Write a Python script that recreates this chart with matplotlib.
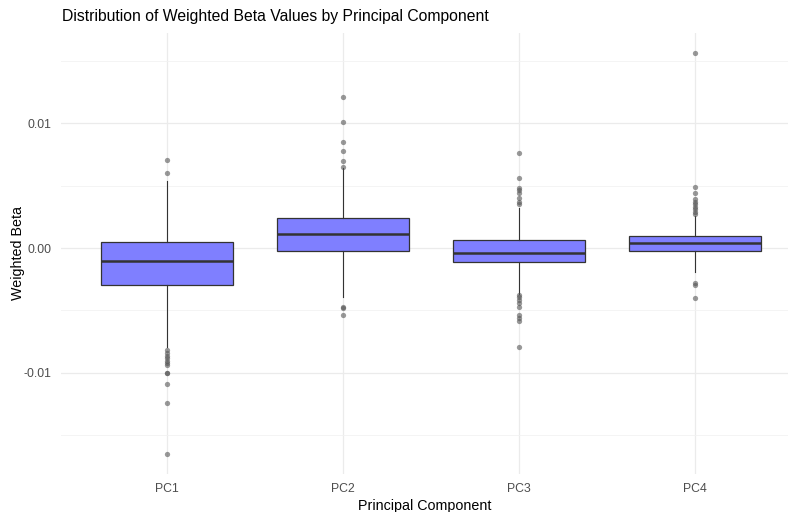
import matplotlib
matplotlib.use("Agg")
import matplotlib.pyplot as plt
from matplotlib.ticker import MultipleLocator, FixedLocator

plt.rcParams["font.family"] = ["Liberation Sans", "DejaVu Sans"]

# summary stats
components = ["PC1", "PC2", "PC3", "PC4"]
q1 = [-0.00295, -0.00027, -0.00115, -0.00022]
median = [-0.00102, 0.00110, -0.00040, 0.00043]
q3 = [0.00050, 0.00241, 0.00062, 0.00096]
whisker_low = [-0.00798, -0.00391, -0.00370, -0.00190]
whisker_high = [0.00540, 0.00640, 0.00319, 0.00260]
outliers = [
    [0.00704, 0.00602, -0.00820, -0.00846, -0.00867, -0.00886, -0.00905,
     -0.00926, -0.00940, -0.01000, -0.01004, -0.01095, -0.01248, -0.01657],
    [0.01210, 0.01012, 0.00849, 0.00777, 0.00699, 0.00651,
     -0.00471, -0.00485, -0.00540],
    [0.00760, 0.00560, 0.00484, 0.00466, 0.00439, 0.00399, 0.00372, 0.00353,
     -0.00378, -0.00396, -0.00418, -0.00444, -0.00476, -0.00538, -0.00565,
     -0.00586, -0.00798],
    [0.01564, 0.00493, 0.00439, 0.00391, 0.00372, 0.00353, 0.00332, 0.00311,
     0.00292, 0.00273, -0.00279, -0.00297, -0.00404],
]

stats = []
for i, name in enumerate(components):
    stats.append({
        "label": name,
        "q1": q1[i],
        "med": median[i],
        "q3": q3[i],
        "whislo": whisker_low[i],
        "whishi": whisker_high[i],
        "fliers": outliers[i],
    })

fig = plt.figure(figsize=(7.88, 5.12), dpi=100)
ax = fig.add_axes([61 / 788, 1 - 473.5 / 512, (788 - 61) / 788, (473.5 - 32.5) / 512])

ax.bxp(
    stats,
    positions=range(1, 5),
    widths=0.75,
    patch_artist=True,
    showcaps=False,
    boxprops=dict(facecolor="#7f7fff", edgecolor="#333333", linewidth=0.9),
    whiskerprops=dict(color="#333333", linewidth=0.8),
    medianprops=dict(color="#333333", linewidth=1.8),
    flierprops=dict(marker="o", markerfacecolor="#555555", markeredgecolor="none",
                    markersize=3.8, alpha=0.6),
)

ax.set_xlim(0.4, 4 + (788 - 695) / 176)
ax.set_ylim(-0.0181, 0.0173)

ax.yaxis.set_major_locator(FixedLocator([-0.01, 0.0, 0.01]))
ax.yaxis.set_minor_locator(MultipleLocator(0.005))
ax.set_yticklabels(["-0.01", "0.00", "0.01"])
ax.set_xticks(range(1, 5))
ax.set_xticklabels(components)

ax.grid(True, which="major", color="#ebebeb", linewidth=0.9, zorder=0)
ax.grid(True, which="minor", axis="y", color="#f2f2f2", linewidth=0.6, zorder=0)
ax.set_axisbelow(True)
for s in ax.spines.values():
    s.set_visible(False)
ax.tick_params(which="both", length=0, colors="#4d4d4d", labelsize=8.8, pad=7)

ax.set_xlabel("Principal Component", fontsize=10.3, color="black", labelpad=3)
ax.set_ylabel("Weighted Beta", fontsize=10.3, color="black")
ax.yaxis.set_label_coords(-36 / 727, 0.5)
fig.text(62 / 788, 1 - 17 / 512, "Distribution of Weighted Beta Values by Principal Component",
         fontsize=11.3, ha="left", va="center")

fig.savefig("out.png", dpi=100)
plt.close(fig)
